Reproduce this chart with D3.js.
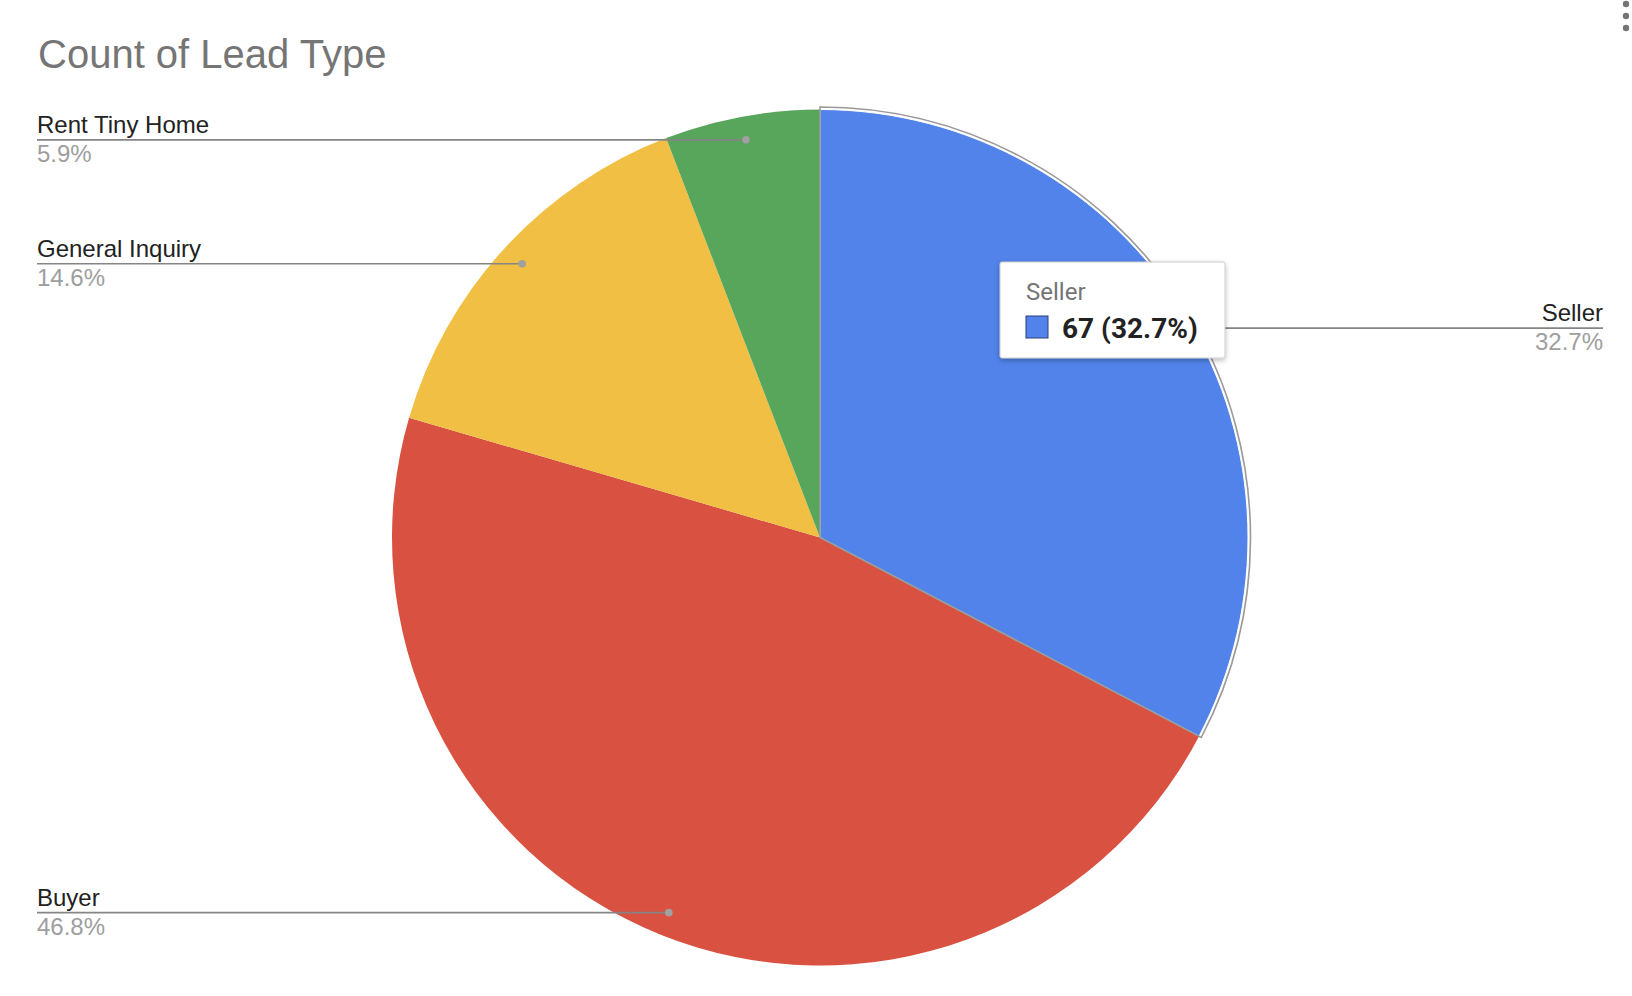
<!DOCTYPE html>
<html>
<head>
<meta charset="utf-8">
<script src="https://cdn.jsdelivr.net/npm/d3@7"></script>
<style>
  html, body { margin: 0; padding: 0; background: #fff; }
  svg { display: block; }
</style>
</head>
<body>
<svg id="chart" width="1632" height="996"></svg>
<script>
// ---- data ----
const categories = ["Seller", "Buyer", "General Inquiry", "Rent Tiny Home"];
const values = [67, 96, 30, 12];
const colors = ["#5283ea", "#d95140", "#f0bf43", "#58a55c"];
const chartTitle = "Count of Lead Type";
const tooltipCategory = "Seller";

// ---- layout ----
const W = 1632, H = 996;
const cx = 820, cy = 537.5, R = 428;
const labelLeftX = 37, labelRightX = 1603;

const svg = d3.select("#chart");
const defs = svg.append("defs");
const f = defs.append("filter").attr("id", "shadow").attr("x", "-20%").attr("y", "-20%").attr("width", "140%").attr("height", "150%");
f.append("feDropShadow").attr("dx", 0).attr("dy", 2).attr("stdDeviation", 2.5).attr("flood-color", "#000").attr("flood-opacity", 0.28);

const total = d3.sum(values);
const pct = d3.format(".1%");
const data = categories.map((c, i) => ({ cat: c, value: values[i], color: colors[i] }));

const pie = d3.pie().value(d => d.value).sort(null);
const arcs = pie(data);
const arc = d3.arc().innerRadius(0).outerRadius(R);
const outline = d3.arc().innerRadius(0).outerRadius(R + 2.5);
const dotArc = d3.arc().innerRadius(R * 0.945).outerRadius(R * 0.945);

// title
svg.append("text")
  .attr("x", 38).attr("y", 68)
  .attr("font-family", "Liberation Sans, Arial, sans-serif")
  .attr("font-size", 40)
  .attr("fill", "#757575")
  .text(chartTitle);

// menu dots
svg.append("g").selectAll("circle").data([4, 16, 28]).join("circle")
  .attr("cx", 1626).attr("cy", d => d).attr("r", 3.2).attr("fill", "#757575");

const g = svg.append("g").attr("transform", `translate(${cx},${cy})`);

g.selectAll("path.slice").data(arcs).join("path")
  .attr("class", "slice")
  .attr("d", arc)
  .attr("fill", d => d.data.color)
  .attr("stroke", d => d.data.cat === tooltipCategory ? "#fff" : "none")
  .attr("stroke-width", 1);

// highlight outline of hovered slice
g.selectAll("path.hl").data(arcs.filter(d => d.data.cat === tooltipCategory)).join("path")
  .attr("class", "hl")
  .attr("d", outline)
  .attr("fill", "none")
  .attr("stroke", "#9a9a9a")
  .attr("stroke-width", 1.6);

// labels with leader lines
const labels = svg.append("g");
arcs.forEach(d => {
  const [dx, dy] = dotArc.centroid(d);
  const px = cx + dx, py = cy + dy;
  const mid = (d.startAngle + d.endAngle) / 2;
  const right = mid < Math.PI;
  const lx = right ? labelRightX : labelLeftX;
  labels.append("line")
    .attr("x1", px).attr("y1", py).attr("x2", lx).attr("y2", py)
    .attr("stroke", "#858585").attr("stroke-width", 1.6);
  labels.append("circle").attr("cx", px).attr("cy", py).attr("r", 3.8).attr("fill", "#a0a0a0");
  labels.append("text")
    .attr("x", lx).attr("y", py - 7)
    .attr("text-anchor", right ? "end" : "start")
    .attr("font-family", "Liberation Sans, Arial, sans-serif")
    .attr("font-size", 24)
    .attr("fill", "#222")
    .text(d.data.cat);
  labels.append("text")
    .attr("x", lx).attr("y", py + 22)
    .attr("text-anchor", right ? "end" : "start")
    .attr("font-family", "Liberation Sans, Arial, sans-serif")
    .attr("font-size", 24)
    .attr("fill", "#9e9e9e")
    .text(pct(d.value / total));
});

// tooltip
const tipD = data.find(d => d.cat === tooltipCategory);
const tip = svg.append("g").attr("transform", "translate(1000,262)");
tip.append("rect")
  .attr("width", 225).attr("height", 96).attr("rx", 2)
  .attr("fill", "#fff").attr("stroke", "#cccccc").attr("stroke-width", 1)
  .attr("filter", "url(#shadow)");
tip.append("text")
  .attr("x", 26).attr("y", 38)
  .attr("font-family", "Roboto, sans-serif")
  .attr("font-size", 24)
  .attr("fill", "#757575")
  .text(tipD.cat);
tip.append("rect")
  .attr("x", 26).attr("y", 54).attr("width", 22).attr("height", 22)
  .attr("fill", tipD.color).attr("stroke", "#2a3f7a").attr("stroke-width", 1);
tip.append("text")
  .attr("x", 62).attr("y", 76)
  .attr("font-family", "Roboto, sans-serif")
  .attr("font-size", 28)
  .attr("font-weight", "bold")
  .attr("fill", "#222")
  .text(`${tipD.value} (${pct(tipD.value / total)})`);
</script>
</body>
</html>
